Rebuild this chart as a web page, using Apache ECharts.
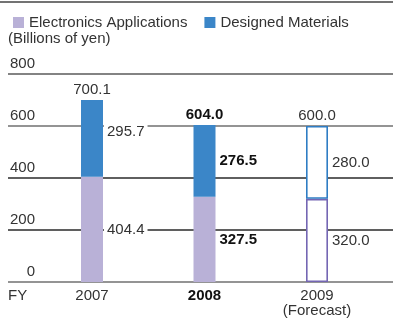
<!DOCTYPE html>
<html>
<head>
<meta charset="utf-8">
<script src="https://cdn.jsdelivr.net/npm/echarts@6/dist/echarts.min.js"></script>
<style>
  html, body { margin: 0; padding: 0; background: #fff; }
  #chart { width: 393px; height: 320px; }
</style>
</head>
<body>
<div id="chart"></div>
<script>
const years = ['2007', '2008', '2009\n(Forecast)'];
const electronics = [404.4, 327.5, 320.0];
const materials = [295.7, 276.5, 280.0];
const totals = [700.1, 604.0, 600.0];
const yTicks = [0, 200, 400, 600, 800];

const FONT = '"Liberation Sans", Arial, Helvetica, sans-serif';
const LAVENDER = '#b9b1d7';
const BLUE = '#3b86c8';
const TEXT = '#333';
const BOLD_INDEX = 1;     // FY2008 is printed in bold
const FORECAST_INDEX = 2; // FY2009 drawn as outline only

const valueLabel = {
  show: true,
  position: 'right',
  distance: 1,
  padding: [1, 3],
  backgroundColor: '#fff',
  color: TEXT,
  fontSize: 15,
  fontFamily: FONT,
  formatter: (p) => p.value.toFixed(1),
};

function segmentData(values, outline, extra) {
  return values.map((v, i) => {
    const item = { value: v };
    if (i === FORECAST_INDEX) {
      item.itemStyle = { color: '#fff', borderColor: outline, borderWidth: 1.6 };
    }
    if (i === BOLD_INDEX) {
      item.label = { fontWeight: 'bold', color: '#111' };
    }
    if (extra && extra[i]) {
      item.label = Object.assign(item.label || {}, extra[i]);
    }
    return item;
  });
}

const chart = echarts.init(document.getElementById('chart'), null, { renderer: 'canvas' });

chart.setOption({
  animation: false,
  textStyle: { fontFamily: FONT },
  legend: {
    left: 8,
    top: 10,
    icon: 'rect',
    itemWidth: 11,
    itemHeight: 11,
    itemGap: 17,
    selectedMode: false,
    textStyle: { fontSize: 15, color: TEXT, fontFamily: FONT },
    data: ['Electronics Applications', 'Designed Materials'],
  },
  graphic: [
    {
      type: 'line',
      shape: { x1: 0, y1: 2, x2: 393, y2: 2 },
      style: { stroke: '#444', lineWidth: 1.5 },
    },
    {
      type: 'text',
      left: 8,
      top: 31,
      style: { text: '(Billions of yen)', fill: TEXT, font: '15px ' + FONT },
    },
    {
      type: 'text',
      left: 8,
      top: 288,
      style: { text: 'FY', fill: TEXT, font: '15px ' + FONT },
    },
  ],
  grid: [
    { left: 8, right: 0, top: 74, bottom: 38 },
    { left: 35.75, right: 19.75, top: 74, bottom: 38 },
  ],
  xAxis: [
    {
      type: 'category',
      gridIndex: 0,
      data: years,
      show: false,
    },
    {
      type: 'category',
      gridIndex: 1,
      data: years,
      axisLine: { show: false },
      axisTick: { show: false },
      axisLabel: {
        margin: 6,
        fontSize: 15,
        lineHeight: 15,
        color: TEXT,
        fontFamily: FONT,
        formatter: (v, i) => (i === BOLD_INDEX ? '{b|' + v + '}' : v),
        rich: { b: { fontWeight: 'bold', color: '#111', fontSize: 15, fontFamily: FONT } },
      },
    },
  ],
  yAxis: [
    {
      type: 'value',
      gridIndex: 0,
      min: yTicks[0],
      max: yTicks[yTicks.length - 1],
      interval: 200,
      axisLine: { show: false },
      axisTick: { show: false },
      axisLabel: {
        margin: -27,
        align: 'right',
        verticalAlign: 'bottom',
        padding: [0, 0, 3, 0],
        fontSize: 15,
        color: TEXT,
        fontFamily: FONT,
      },
      splitLine: {
        lineStyle: {
          color: ['#707070', '#2a2a2a', '#2a2a2a', '#707070', '#5a5a5a'],
          width: 1.5,
        },
      },
    },
    {
      type: 'value',
      gridIndex: 1,
      min: yTicks[0],
      max: yTicks[yTicks.length - 1],
      interval: 200,
      show: false,
    },
  ],
  series: [
    {
      name: 'Electronics Applications',
      type: 'bar',
      stack: 'fy',
      xAxisIndex: 1,
      yAxisIndex: 1,
      barWidth: 22,
      itemStyle: { color: LAVENDER },
      label: valueLabel,
      data: segmentData(electronics, '#7466b3'),
    },
    {
      name: 'Designed Materials',
      type: 'bar',
      stack: 'fy',
      xAxisIndex: 1,
      yAxisIndex: 1,
      barWidth: 22,
      itemStyle: { color: BLUE },
      label: valueLabel,
      data: segmentData(materials, '#2f7dc4', { 0: { offset: [0, -7] } }),
    },
    {
      name: 'Total',
      type: 'scatter',
      xAxisIndex: 1,
      yAxisIndex: 1,
      symbol: 'rect',
      symbolSize: 0,
      silent: true,
      itemStyle: { color: '#fff', opacity: 1 },
      label: {
        show: true,
        position: 'top',
        distance: 3,
        color: TEXT,
        fontSize: 15,
        fontFamily: FONT,
        formatter: (p) => p.value.toFixed(1),
      },
      data: totals.map((v, i) => (i === BOLD_INDEX
        ? { value: v, label: { fontWeight: 'bold', color: '#111' } }
        : { value: v })),
    },
  ],
});
</script>
</body>
</html>
